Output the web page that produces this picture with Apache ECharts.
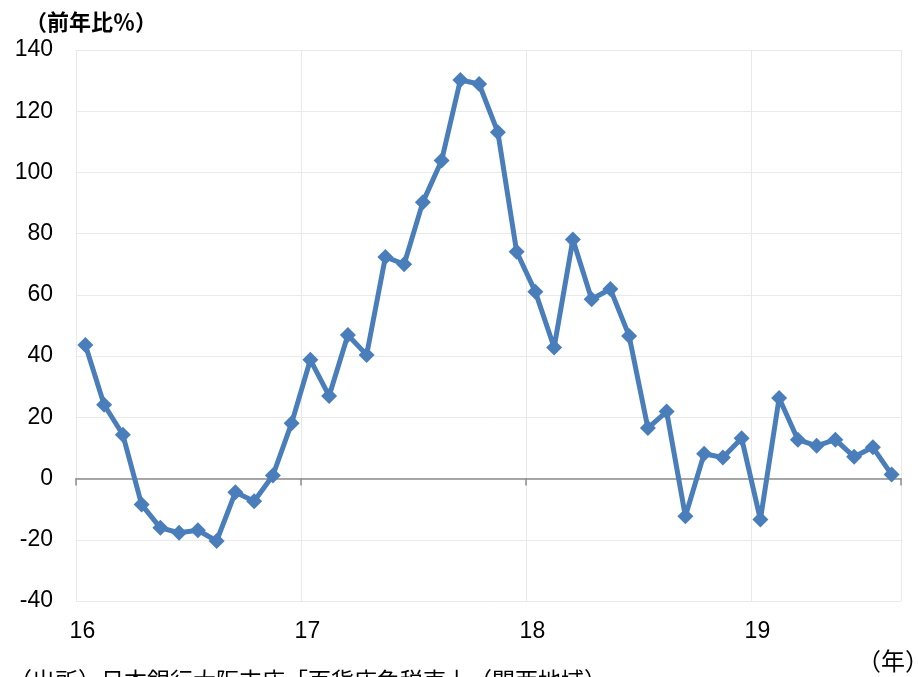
<!DOCTYPE html>
<html>
<head>
<meta charset="utf-8">
<script src="https://cdn.jsdelivr.net/npm/echarts@6/dist/echarts.min.js"></script>
<style>
  html, body { margin: 0; padding: 0; background: #fff; }
  #chart { width: 918px; height: 677px; }
</style>
</head>
<body>
<div id="chart"></div>
<script>
// Year tick labels shown under the first month of each year
const yearLabels = ['16', '17', '18', '19'];

// Monthly categories, 2016/01 .. 2019/08
const months = [];
for (let y = 2016; y <= 2019; y++) {
  for (let m = 1; m <= 12; m++) {
    if (y === 2019 && m > 8) break;
    months.push(y + '/' + String(m).padStart(2, '0'));
  }
}

// Year-on-year change (%)
const yoy = [
  43.6, 24.1, 14.3, -8.5, -16.1, -17.7, -16.9, -20.4, -4.5, -7.4, 1.0, 18.1,
  38.8, 27.0, 46.9, 40.4, 72.4, 70.0, 90.3, 103.9, 130.2, 128.9, 113.1, 74.1,
  61.0, 42.8, 78.1, 58.6, 61.9, 46.6, 16.5, 21.9, -12.3, 8.1, 6.9, 13.2,
  -13.4, 26.3, 12.7, 10.7, 12.7, 7.1, 10.2, 1.3
];

// Value axis range
const yMin = -40, yMax = 140, yStep = 20;

const LATIN = "'Liberation Sans', Arial, sans-serif";
const CJK = "'Noto Sans CJK JP', 'Noto Sans', sans-serif";
const BLUE = '#4a7ebb';
const GRID = '#e9e9e9';
const AXIS = '#8c8c8c';

const chart = echarts.init(document.getElementById('chart'));
chart.setOption({
  animation: false,
  backgroundColor: '#fff',
  grid: { left: 76, right: 17, top: 50, bottom: 76 },
  xAxis: [
    {
      // labels + vertical year gridlines
      type: 'category',
      data: months,
      boundaryGap: true,
      position: 'bottom',
      axisLine: { show: false, onZero: false },
      axisTick: { show: false },
      axisLabel: {
        interval: (i) => i % 12 === 0,
        formatter: (v, i) => yearLabels[Math.floor(i / 12)],
        fontSize: 23,
        fontFamily: LATIN,
        color: '#000',
        margin: 19,
        padding: [0, 6, 0, 0]
      },
      splitLine: {
        show: true,
        interval: (i) => i % 12 === 0,
        lineStyle: { color: GRID, width: 1 }
      }
    },
    {
      // zero baseline with year ticks
      type: 'category',
      data: months,
      boundaryGap: true,
      position: 'top',
      axisLine: { show: true, onZero: true, onZeroAxisIndex: 0, lineStyle: { color: AXIS, width: 1.5 } },
      axisTick: {
        show: true,
        inside: true,
        length: 7,
        interval: (i) => i % 12 === 0,
        lineStyle: { color: AXIS, width: 1.5 }
      },
      axisLabel: { show: false },
      splitLine: { show: false }
    }
  ],
  yAxis: {
    type: 'value',
    min: yMin,
    max: yMax,
    interval: yStep,
    axisLine: { show: false },
    axisTick: { show: false },
    axisLabel: { fontSize: 23, fontFamily: LATIN, color: '#000', margin: 23 },
    splitLine: { show: true, lineStyle: { color: GRID, width: 1 } }
  },
  series: [
    {
      type: 'line',
      xAxisIndex: 0,
      data: yoy,
      symbol: 'diamond',
      symbolSize: 16,
      showAllSymbol: true,
      lineStyle: { color: BLUE, width: 5 },
      itemStyle: { color: BLUE },
      z: 5
    }
  ],
  graphic: [
    {
      type: 'text', left: 25, top: 11,
      style: { text: '（前年比％）', font: 'bold 22px ' + CJK, fill: '#000' }
    },
    {
      type: 'text', left: 857, top: 649,
      style: { text: '（年）', font: '24px ' + CJK, fill: '#000' }
    },
    {
      type: 'text', left: 9, top: 669,
      style: { text: '（出所）日本銀行大阪支店「百貨店免税売上（関西地域）', font: '23px ' + CJK, fill: '#000' }
    }
  ]
});
</script>
</body>
</html>
